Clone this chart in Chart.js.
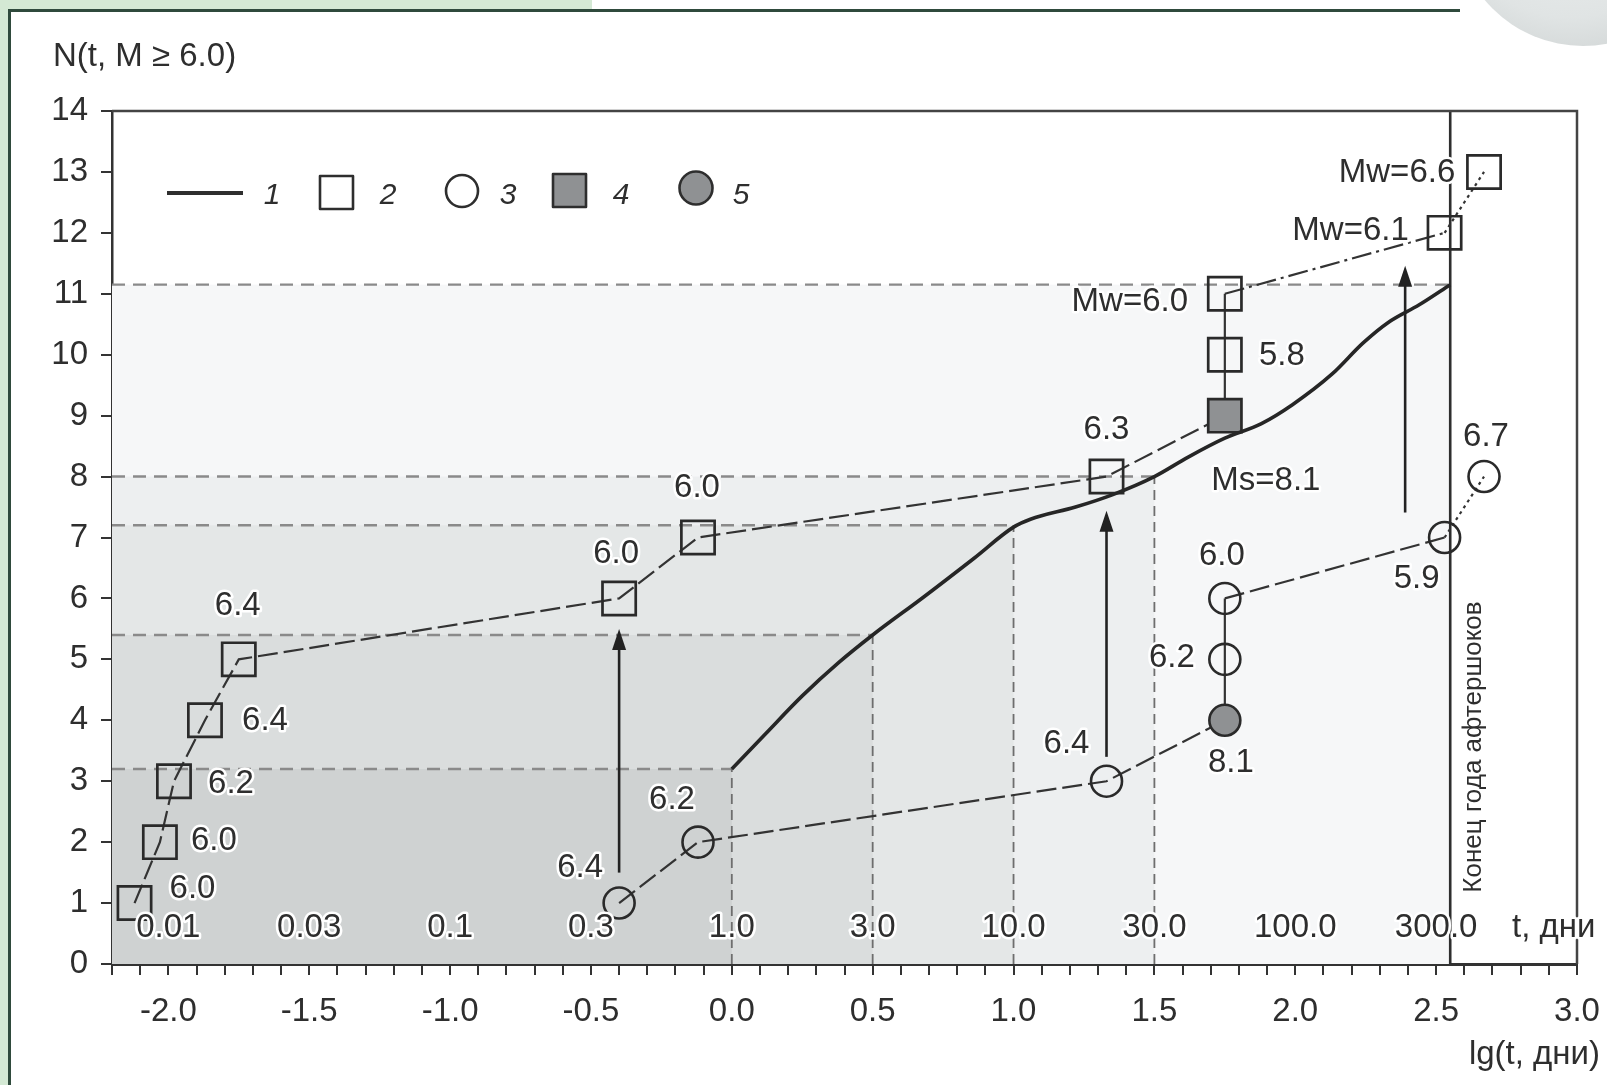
<!DOCTYPE html>
<html>
<head>
<meta charset="utf-8">
<title>N(t, M ≥ 6.0)</title>
<script src="https://cdn.jsdelivr.net/npm/chart.js"></script>
<style>
  body { margin: 0; background: #fff; overflow: hidden; }
  #wrap { position: relative; width: 1607px; height: 1085px; overflow: hidden; }
  .green-top { position: absolute; left: 0; top: 0; width: 592px; height: 10px; background: #d4e9d4; }
  .green-left { position: absolute; left: 0; top: 0; width: 9px; height: 1085px; background: #d4e9d4; }
  .line-top { position: absolute; left: 8px; top: 9px; width: 1452px; height: 3px; background: #2f4a3c; }
  .line-left { position: absolute; left: 8px; top: 9px; width: 3px; height: 1076px; background: #2f4a3c; }
  .ball { position: absolute; left: 1455px; top: -210px; width: 256px; height: 256px; border-radius: 50%;
          background: radial-gradient(circle at 45% 40%, #eef1f1 0%, #e0e4e4 60%, #c6cbcb 100%); }
  canvas { position: absolute; left: 0; top: 0; }
</style>
</head>
<body>
<div id="wrap">
  <div class="green-top"></div>
  <div class="green-left"></div>
  <div class="line-top"></div>
  <div class="line-left"></div>
  <div class="ball"></div>
  <canvas id="chart" width="1607" height="1085"></canvas>
</div>
<script>
// curve 1: cumulative number of aftershocks M >= 6.0 (lg t, N)
const curveLg = [0.00, 0.12, 0.25, 0.38, 0.50, 0.68, 0.86, 1.00, 1.06, 1.22, 1.35, 1.50, 1.62, 1.75, 1.88, 1.99, 2.13, 2.24, 2.33, 2.44, 2.55];
const curveN  = [3.20, 3.78, 4.40, 4.95, 5.40, 6.02, 6.66, 7.17, 7.30, 7.50, 7.70, 8.00, 8.32, 8.63, 8.87, 9.18, 9.68, 10.19, 10.53, 10.82, 11.15];

// squares (2, filled = 4)
const sqLg  = [-2.12, -2.03, -1.98, -1.87, -1.75, -0.40, -0.12, 1.33, 1.75, 1.75, 1.75, 2.53, 2.67];
const sqN   = [1, 2, 3, 4, 5, 6, 7, 8, 9, 10, 11, 12, 13];
const sqMag = ['6.0', '6.0', '6.2', '6.4', '6.4', '6.0', '6.0', '6.3', 'Ms=8.1', '5.8', 'Mw=6.0', 'Mw=6.1', 'Mw=6.6'];
const sqFilled = 8;

// circles (3, filled = 5)
const crLg  = [-0.40, -0.12, 1.33, 1.75, 1.75, 1.75, 2.53, 2.67];
const crN   = [1, 2, 3, 4, 5, 6, 7, 8];
const crMag = ['6.4', '6.2', '6.4', '8.1', '6.2', '6.0', '5.9', '6.7'];
const crFilled = 3;

// reference levels: t = 1, 3, 10, 30 days and end of year
const levelLg = [0.0, 0.5, 1.0, 1.5, 2.55];
const levelN  = [3.2, 5.4, 7.2, 8.0, 11.15];

// t labels (days) inside the plot
const tLabels  = ['0.01', '0.03', '0.1', '0.3', '1.0', '3.0', '10.0', '30.0', '100.0', '300.0'];
const tLabelLg = [-2.0, -1.5, -1.0, -0.5, 0.0, 0.5, 1.0, 1.5, 2.0, 2.5];

// arrows (lg, from N, to N)
const arrowLg   = [-0.40, 1.33, 2.39];
const arrowFrom = [1.50, 3.40, 7.41];
const arrowTo   = [5.50, 7.44, 11.46];

// label offsets in px from the marker
const sqOffset = [[58,-14],[54,-1],[57,3],[60,1],[-1,-53],[-3,-45],[-1,-50],[0,-47],[41,65],[57,1],[-95,8],[-94,-2],[-87,1]];
const crOffset = [[-39,-35],[-26,-42],[-40,-37],[6,43],[-53,-1],[-3,-43],[-28,41],[2,-40]];

const FONT = '"Liberation Sans", Arial, Helvetica, sans-serif';
const INK = '#2e2e2e';
const shades = ['#cfd2d2', '#dadddd', '#e4e7e7', '#edeff0', '#f6f7f8'];
const grayFill = '#8f9193';

const DASH = [20, 6], DASHDOT = [20, 5, 3, 5], DOT = [3, 4];

function sqDash(i) {
  if (i <= 7) return DASH;
  if (i <= 9) return [];
  if (i === 10) return DASHDOT;
  return DOT;
}
function crDash(i) {
  if (i <= 2) return DASH;
  if (i <= 4) return [];
  if (i === 5) return DASH;
  return DOT;
}

function haloText(ctx, text, x, y) {
  ctx.lineWidth = 5;
  ctx.strokeStyle = '#fff';
  ctx.lineJoin = 'round';
  ctx.strokeText(text, x, y);
  ctx.fillText(text, x, y);
}

const decor = {
  id: 'decor',
  beforeDatasetsDraw(chart) {
    const { ctx, chartArea: a, scales: { x, y } } = chart;
    ctx.save();
    // nested shaded rectangles
    for (let i = levelLg.length - 1; i >= 0; i--) {
      const px = x.getPixelForValue(levelLg[i]);
      const py = y.getPixelForValue(levelN[i]);
      ctx.fillStyle = shades[i];
      ctx.fillRect(a.left, py, px - a.left, a.bottom - py);
    }
    // dashed guides
    for (let i = 0; i < levelLg.length; i++) {
      const px = x.getPixelForValue(levelLg[i]);
      const py = y.getPixelForValue(levelN[i]);
      ctx.strokeStyle = '#8a8a8a';
      ctx.lineWidth = 2.4;
      ctx.setLineDash([13, 8]);
      ctx.beginPath();
      ctx.moveTo(a.left, py);
      ctx.lineTo(px, py);
      ctx.stroke();
      if (i < levelLg.length - 1) {
        ctx.strokeStyle = '#6e6e6e';
        ctx.lineWidth = 1.8;
        ctx.setLineDash([10, 6]);
        ctx.beginPath();
        ctx.moveTo(px, a.bottom);
        ctx.lineTo(px, py);
        ctx.stroke();
      }
    }
    ctx.setLineDash([]);
    // end of the year of aftershocks
    const yx = x.getPixelForValue(levelLg[levelLg.length - 1]);
    ctx.strokeStyle = INK;
    ctx.lineWidth = 2.6;
    ctx.beginPath();
    ctx.moveTo(yx, a.top);
    ctx.lineTo(yx, a.bottom);
    ctx.stroke();
    // frame top and right
    ctx.strokeStyle = '#444';
    ctx.lineWidth = 2.5;
    ctx.beginPath();
    ctx.moveTo(a.left, a.top);
    ctx.lineTo(a.right, a.top);
    ctx.lineTo(a.right, a.bottom);
    ctx.stroke();
    ctx.restore();
  },
  afterDatasetsDraw(chart) {
    const { ctx, chartArea: a, scales: { x, y } } = chart;
    ctx.save();
    ctx.fillStyle = INK;
    ctx.textAlign = 'center';
    ctx.textBaseline = 'middle';
    ctx.font = '33px ' + FONT;

    // arrows
    for (let i = 0; i < arrowLg.length; i++) {
      const px = x.getPixelForValue(arrowLg[i]);
      const y0 = y.getPixelForValue(arrowFrom[i]);
      const y1 = y.getPixelForValue(arrowTo[i]);
      ctx.strokeStyle = '#222';
      ctx.lineWidth = 2.6;
      ctx.beginPath();
      ctx.moveTo(px, y0);
      ctx.lineTo(px, y1 + 16);
      ctx.stroke();
      ctx.fillStyle = '#222';
      ctx.beginPath();
      ctx.moveTo(px, y1);
      ctx.lineTo(px - 7, y1 + 21);
      ctx.lineTo(px + 7, y1 + 21);
      ctx.closePath();
      ctx.fill();
    }

    ctx.fillStyle = INK;
    // t labels row
    const ty = y.getPixelForValue(0.53) - 4;
    tLabels.forEach((t, i) => haloText(ctx, t, x.getPixelForValue(tLabelLg[i]), ty));
    ctx.textAlign = 'left';
    haloText(ctx, 't, дни', 1512, ty);

    // magnitude labels
    ctx.textAlign = 'center';
    sqMag.forEach((t, i) => {
      const px = x.getPixelForValue(sqLg[i]) + sqOffset[i][0];
      const py = y.getPixelForValue(sqN[i]) + sqOffset[i][1];
      haloText(ctx, t, px, py);
    });
    crMag.forEach((t, i) => {
      const px = x.getPixelForValue(crLg[i]) + crOffset[i][0];
      const py = y.getPixelForValue(crN[i]) + crOffset[i][1];
      haloText(ctx, t, px, py);
    });

    // axis titles
    ctx.textAlign = 'left';
    ctx.fillText('N(t, M ≥ 6.0)', 53, 57);
    ctx.textAlign = 'right';
    ctx.fillText('lg(t, дни)', 1600, 1055);

    // rotated note
    ctx.save();
    ctx.translate(1474, 747);
    ctx.rotate(-Math.PI / 2);
    ctx.textAlign = 'center';
    ctx.font = '26px ' + FONT;
    ctx.fillText('Конец года афтершоков', 0, 0);
    ctx.restore();

    // legend
    ctx.strokeStyle = INK;
    ctx.lineWidth = 4;
    ctx.beginPath();
    ctx.moveTo(167, 193);
    ctx.lineTo(243, 193);
    ctx.stroke();
    ctx.lineWidth = 2.6;
    ctx.strokeRect(320, 176, 33, 33);
    ctx.beginPath();
    ctx.arc(462, 191, 16, 0, Math.PI * 2);
    ctx.stroke();
    ctx.fillStyle = grayFill;
    ctx.fillRect(553, 174, 33, 33);
    ctx.strokeRect(553, 174, 33, 33);
    ctx.beginPath();
    ctx.arc(696, 188, 16.5, 0, Math.PI * 2);
    ctx.fill();
    ctx.stroke();
    ctx.fillStyle = INK;
    ctx.font = 'italic 30px ' + FONT;
    ctx.textAlign = 'center';
    [['1', 272], ['2', 388], ['3', 508], ['4', 621], ['5', 741]].forEach(([t, px]) => ctx.fillText(t, px, 196));
    ctx.restore();
  }
};

const pts = (xs, ys) => xs.map((v, i) => ({ x: v, y: ys[i] }));

const ctx = document.getElementById('chart').getContext('2d');
new Chart(ctx, {
  type: 'line',
  data: {
    datasets: [
      {
        label: '1',
        data: pts(curveLg, curveN),
        borderColor: '#262626',
        borderWidth: 3.6,
        pointRadius: 0,
        cubicInterpolationMode: 'monotone',
        fill: false
      },
      {
        label: '2',
        data: pts(sqLg, sqN),
        borderColor: '#333',
        borderWidth: 2.2,
        pointStyle: 'rect',
        pointRadius: 23.5,
        pointBorderWidth: 2.7,
        pointBorderColor: '#2a2a2a',
        pointBackgroundColor: sqN.map((v, i) => i === sqFilled ? grayFill : 'rgba(0,0,0,0)'),
        segment: { borderDash: c => sqDash(c.p0DataIndex) }
      },
      {
        label: '3',
        data: pts(crLg, crN),
        borderColor: '#333',
        borderWidth: 2.2,
        pointStyle: 'circle',
        pointRadius: 15.5,
        pointBorderWidth: 2.6,
        pointBorderColor: '#2a2a2a',
        pointBackgroundColor: crN.map((v, i) => i === crFilled ? grayFill : 'rgba(0,0,0,0)'),
        segment: { borderDash: c => crDash(c.p0DataIndex) }
      }
    ]
  },
  options: {
    responsive: false,
    animation: false,
    layout: { padding: { top: 111, right: 30, bottom: 0, left: 0 } },
    plugins: { legend: { display: false }, tooltip: { enabled: false } },
    scales: {
      x: {
        type: 'linear',
        min: -2.2,
        max: 3.0,
        afterFit: s => { s.height = 121; s.paddingLeft = 0; s.paddingRight = 0; },
        afterBuildTicks: s => {
          const t = [];
          for (let k = -22; k <= 30; k++) t.push({ value: k / 10 });
          s.ticks = t;
        },
        ticks: {
          autoSkip: false,
          maxRotation: 0,
          padding: 17,
          color: INK,
          font: { size: 33, family: FONT },
          callback: v => (Math.abs(v * 2 - Math.round(v * 2)) < 1e-6 ? (Math.round(v * 10) / 10).toFixed(1) : '')
        },
        grid: { drawOnChartArea: false, drawTicks: true, tickLength: 11, color: '#333', lineWidth: 2 },
        border: { display: true, color: '#333', width: 3 }
      },
      y: {
        min: 0,
        max: 14,
        afterFit: s => { s.width = 112; s.paddingTop = 0; s.paddingBottom = 0; },
        ticks: {
          stepSize: 1,
          padding: 13,
          color: INK,
          font: { size: 33, family: FONT }
        },
        grid: { drawOnChartArea: false, drawTicks: true, tickLength: 11, color: '#333', lineWidth: 2 },
        border: { display: true, color: '#333', width: 2.5 }
      }
    }
  },
  plugins: [decor]
});
</script>
</body>
</html>
